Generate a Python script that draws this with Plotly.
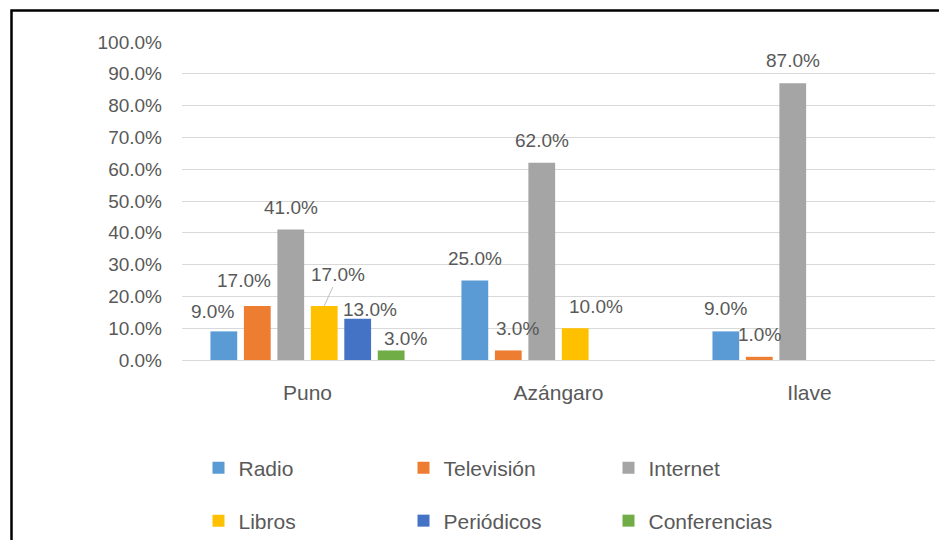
import plotly.graph_objects as go

# data
ciudades = ["Puno", "Azángaro", "Ilave"]
series = ["Radio", "Televisión", "Internet", "Libros", "Periódicos", "Conferencias"]
radio = [0.09, 0.25, 0.09]
television = [0.17, 0.03, 0.01]
internet = [0.41, 0.62, 0.87]
libros = [0.17, 0.10, None]
periodicos = [0.13, None, None]
conferencias = [0.03, None, None]

valores = [radio, television, internet, libros, periodicos, conferencias]
colores = ["#5B9BD5", "#ED7D31", "#A5A5A5", "#FFC000", "#4472C4", "#70AD47"]

# label nudges (px) where the labels were dragged in the original
nudges = {
    (0, 0): (-11, -20), (1, 0): (-13, -25), (3, 0): (14, -31),
    (4, 0): (12, -9), (5, 0): (14, -12),
    (1, 1): (9, -22), (3, 1): (21, -22),
}

# page has an 8px body margin, so the figure is a bit smaller than the window
W, H = 939, 532
L, R, T, B = 174, 12, 34, 180
PW, PH = W - L - R, H - T - B
BARGAP = 0.2
slot = PW / len(ciudades) * (1 - BARGAP) / len(series)

FONT = "Liberation Sans, Arial, sans-serif"
GRAY = "#595959"

fig = go.Figure()
for i, (name, vals) in enumerate(zip(series, valores)):
    fig.add_trace(go.Bar(
        x=ciudades, y=vals, name=name,
        marker=dict(color=colores[i], line=dict(width=0)),
        legend="legend" if i < 3 else "legend2",
    ))

annotations = []
for i, vals in enumerate(valores):
    for j, v in enumerate(vals):
        if v is None:
            continue
        dx, dy = nudges.get((i, j), (0, -22.5))
        leader = (i, j) == (3, 0)
        annotations.append(dict(
            x=ciudades[j], y=v, xref="x", yref="y",
            xshift=(i - (len(series) - 1) / 2) * slot,
            text=f"{v * 100:.1f}%",
            showarrow=True, ax=dx, ay=dy, arrowhead=0, standoff=0,
            arrowwidth=1,
            arrowcolor="#BFBFBF" if leader else "rgba(0,0,0,0)",
            font=dict(family=FONT, size=19, color=GRAY),
        ))

# chart frame
shapes = [dict(
    type="rect", xref="paper", yref="paper",
    x0=(3.5 - L) / PW, x1=(W + 10 - L) / PW,
    y0=-(B + 10) / PH, y1=1 + (T - 2.5) / PH,
    line=dict(color="black", width=2.5), layer="above",
)]

legend_common = dict(
    orientation="h", xanchor="left", yanchor="middle",
    xref="container", yref="container",
    entrywidth=160, font=dict(family=FONT, size=21, color=GRAY),
    bgcolor="rgba(0,0,0,0)",
)

fig.update_layout(
    width=W, height=H,
    margin=dict(l=L, r=R, t=T, b=B, autoexpand=False),
    plot_bgcolor="white", paper_bgcolor="white",
    barmode="group", bargap=BARGAP, bargroupgap=0.2,
    font=dict(family=FONT, size=19, color=GRAY),
    annotations=annotations,
    shapes=shapes,
    legend=dict(**legend_common, x=190.5 / W, y=1 - 460 / H),
    legend2=dict(**legend_common, x=190.5 / W, y=1 - 513 / H),
)
fig.update_yaxes(
    range=[0, 1], dtick=0.1, tickformat=".1%",
    showgrid=True, gridcolor="#D9D9D9", gridwidth=1,
    zeroline=True, zerolinecolor="#D9D9D9", zerolinewidth=1,
    showline=False, ticklabelstandoff=19, automargin=False,
    tickfont=dict(family=FONT, size=19, color=GRAY),
)
fig.update_xaxes(
    showgrid=False, showline=False, ticks="",
    ticklabelstandoff=18, automargin=False,
    tickfont=dict(family=FONT, size=21, color=GRAY),
)

fig.write_html("out.html")
